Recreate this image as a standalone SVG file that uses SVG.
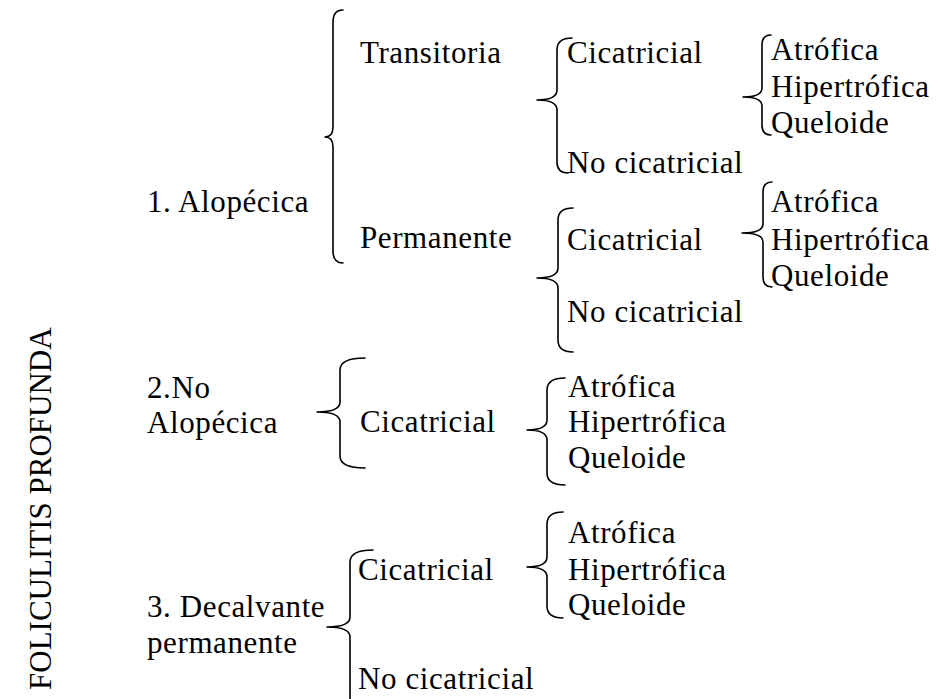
<svg xmlns="http://www.w3.org/2000/svg" width="939" height="699" viewBox="0 0 939 699">
<style>
text{font-family:"Liberation Serif","Times New Roman",serif;font-size:31px;letter-spacing:0.6px;fill:#000}
.t{letter-spacing:0}
.b{fill:none;stroke:#000;stroke-width:1.6;stroke-linecap:round;stroke-linejoin:round}
</style>
<rect width="939" height="699" fill="#fff"/>
<g id="connectors">
<path class="b" d="M343,10 Q333,10 333,22 L333,127 Q333,137 325,137 Q333,137 333,147 L333,251 Q333,263 343,263"/>
<path class="b" d="M572,38 Q557,38 557,50 L557,90 Q557,100 537,100 Q557,100 557,110 L557,162 Q557,173 568,173"/>
<path class="b" d="M771,35 Q762,35 762,45 L762,88 Q762,97 743,97 Q762,97 762,106 L762,125 Q762,135 771,135"/>
<path class="b" d="M573,208 Q558,208 558,220 L558,268 Q558,278 537,278 Q558,278 558,288 L558,340 Q558,352 573,352"/>
<path class="b" d="M772,182 Q763,182 763,192 L763,224 Q763,233 742,233 Q763,233 763,242 L763,277 Q763,287 772,287"/>
<path class="b" d="M365,358 Q340,358 340,370 L340,402 Q340,412 317,412 Q340,412 340,422 L340,456 Q340,468 365,468"/>
<path class="b" d="M565,378 Q547,378 547,390 L547,420 Q547,430 527,430 Q547,430 547,440 L547,473 Q547,485 565,485"/>
<path class="b" d="M373,550 Q350,550 350,562 L350,617 Q350,627 327,627 Q350,627 350,637 L350,710"/>
<path class="b" d="M563,512 Q547,512 547,524 L547,557 Q547,567 527,567 Q547,567 547,577 L547,606 Q547,618 563,618"/>
</g>
<g id="title"><text class="t" transform="translate(51,690) rotate(-90)">FOLICULITIS PROFUNDA</text></g>
<g id="n1"><text x="147" y="212">1. Alopécica</text></g>
<g id="n1a"><text x="360" y="63">Transitoria</text></g>
<g id="n1a1"><text x="567" y="63">Cicatricial</text></g>
<g id="n1a1x"><text x="771" y="60">Atrófica</text><text x="771" y="97">Hipertrófica</text><text x="771" y="133">Queloide</text></g>
<g id="n1a2"><text x="567" y="173">No cicatricial</text></g>
<g id="n1b"><text x="360" y="248">Permanente</text></g>
<g id="n1b1"><text x="567" y="250">Cicatricial</text></g>
<g id="n1b1x"><text x="771" y="212">Atrófica</text><text x="771" y="250">Hipertrófica</text><text x="771" y="286">Queloide</text></g>
<g id="n1b2"><text x="567" y="322">No cicatricial</text></g>
<g id="n2"><text x="147" y="398">2.No</text><text x="147" y="433">Alopécica</text></g>
<g id="n2a"><text x="360" y="432">Cicatricial</text></g>
<g id="n2ax"><text x="568" y="397">Atrófica</text><text x="568" y="432">Hipertrófica</text><text x="568" y="468">Queloide</text></g>
<g id="n3"><text x="147" y="617">3. Decalvante</text><text x="147" y="653">permanente</text></g>
<g id="n3a"><text x="358" y="580">Cicatricial</text></g>
<g id="n3ax"><text x="568" y="543">Atrófica</text><text x="568" y="580">Hipertrófica</text><text x="568" y="615">Queloide</text></g>
<g id="n3b"><text x="358" y="689">No cicatricial</text></g>
</svg>
